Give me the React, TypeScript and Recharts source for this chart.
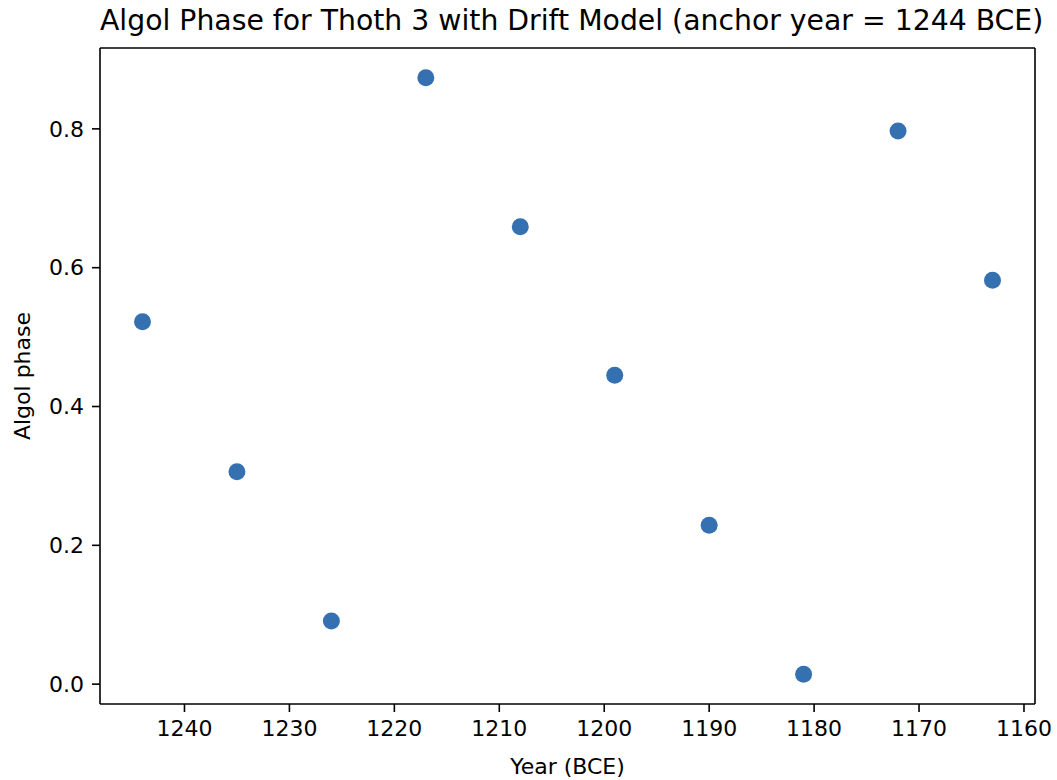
import { ScatterChart, Scatter, XAxis, YAxis, ReferenceLine } from 'recharts';

// Thoth 3 observations, one every 9 years from the anchor year
const years = [1244, 1235, 1226, 1217, 1208, 1199, 1190, 1181, 1172, 1163];
const phases = [0.522, 0.306, 0.091, 0.8735, 0.659, 0.445, 0.229, 0.0144, 0.797, 0.582];

const xTicks = [1240, 1230, 1220, 1210, 1200, 1190, 1180, 1170, 1160];
const yTicks = [0.0, 0.2, 0.4, 0.6, 0.8];

const data = years.map((year, i) => ({ year, phase: phases[i] }));

const FONT = '"DejaVu Sans", sans-serif';
const xDomain = [1158.95, 1248.05];
const yDomain = [-0.0286, 0.9165];
const DOT = '#3571b1';

const Dot = (props: any) => <circle cx={props.cx} cy={props.cy} r={8.5} fill={DOT} />;

export default function App() {
  return (
    <div style={{ position: 'absolute', left: 0, top: 0, width: 1057, height: 780, background: '#fff', fontFamily: FONT }}>
      <div
        style={{
          position: 'absolute',
          left: 100,
          width: 935,
          top: 3,
          textAlign: 'center',
          fontSize: 28.3,
          lineHeight: '36px',
          color: '#000',
          whiteSpace: 'nowrap',
        }}
      >
        Algol Phase for Thoth 3 with Drift Model (anchor year = 1244 BCE)
      </div>
      <ScatterChart width={1057} height={780} margin={{ top: 48, right: 22, bottom: 0, left: 0 }}>
        <XAxis
          type="number"
          dataKey="year"
          domain={xDomain}
          ticks={xTicks}
          reversed
          height={76}
          tickSize={8}
          tickMargin={8}
          stroke="#000"
          strokeWidth={1.6}
          tick={{ fill: '#000', fontSize: 22, fontFamily: FONT }}
          interval={0}
          label={{ value: 'Year (BCE)', position: 'insideBottom', offset: 6, fill: '#000', fontSize: 22, fontFamily: FONT }}
        />
        <YAxis
          type="number"
          dataKey="phase"
          domain={yDomain}
          ticks={yTicks}
          width={100}
          tickSize={8}
          tickMargin={8}
          stroke="#000"
          strokeWidth={1.6}
          interval={0}
          tickFormatter={(v: number) => v.toFixed(1)}
          tick={{ fill: '#000', fontSize: 22, fontFamily: FONT }}
          label={{
            value: 'Algol phase',
            angle: -90,
            position: 'insideLeft',
            offset: 22,
            fill: '#000',
            fontSize: 22,
            fontFamily: FONT,
            style: { textAnchor: 'middle' },
          }}
        />
        {/* top and right spines */}
        <ReferenceLine y={yDomain[1]} stroke="#000" strokeWidth={1.6} />
        <ReferenceLine x={xDomain[0]} stroke="#000" strokeWidth={1.6} />
        <Scatter data={data} fill={DOT} shape={Dot} isAnimationActive={false} />
      </ScatterChart>
    </div>
  );
}
